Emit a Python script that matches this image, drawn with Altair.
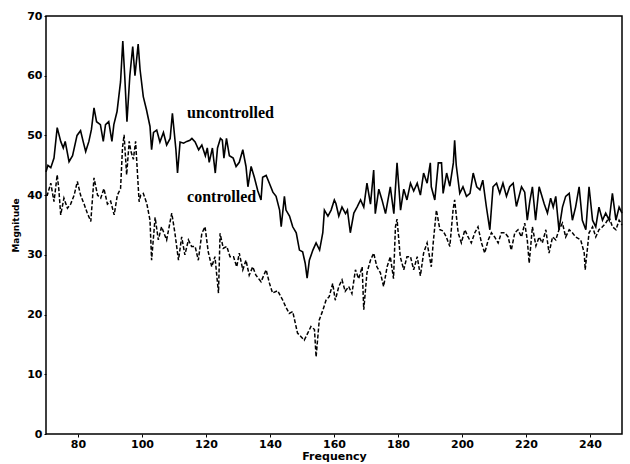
import altair as alt
import pandas as pd

# Uncontrolled spectrum (frequency, magnitude)
freq_u = [70, 70.6, 71.5, 72.5, 73.5, 74.6, 75.4, 76, 77.2, 78.3, 79.7, 80.8, 81.6, 82.4, 83.4, 84.2, 85, 85.8, 87, 87.9,
          88.6, 89.6, 90.6, 91.2, 92.2, 93.3, 94, 94.6, 95.3, 96.2, 97.1, 97.8, 98.8, 99.4, 100.4, 101.4, 102.5, 103, 103.6, 104.6,
          105.6, 106.7, 107.7, 108.8, 109.5, 110.6, 111.1, 111.9, 113, 114, 115, 115.6, 116.6, 117.7, 118.7, 119.8, 120.4, 121, 122, 122.9,
          123.6, 124.5, 125.1, 125.6, 126.4, 127.3, 128.5, 129.4, 130.4, 131.5, 132.5, 133.1, 134.1, 135.1, 136.2, 137.2, 137.7, 138.8, 139.8, 140.9,
          141.9, 143, 143.5, 144.5, 145, 146.1, 147.1, 148.2, 149.2, 150.2, 151, 151.6, 152.3, 153.4, 154.4, 155.5, 156.5, 157, 158.1, 159.1,
          160.1, 160.6, 161.5, 162.5, 163.6, 164.2, 165.1, 166.2, 167.2, 168.3, 169.3, 170.3, 171.4, 172.4, 172.9, 174, 175, 176.1, 177.6, 178.7,
          179.7, 180.8, 181.8, 182.8, 183.9, 184.9, 186, 187, 188, 189.1, 190.1, 190.4, 191.5, 192.6, 193.6, 194.1, 195.2, 196.2, 197.3, 197.7,
          198.2, 199.3, 200.3, 201.4, 202.5, 203.5, 204.6, 205.6, 206.5, 207.6, 208.7, 209.7, 210.8, 211.8, 212.8, 213.9, 214.9, 216, 217, 218.6,
          219.6, 220.4, 221.2, 222, 223, 224.1, 225.7, 226.7, 227.7, 228.5, 229.3, 230.3, 231.4, 232.4, 233.5, 234.5, 235.5, 236.6, 237.6, 238.7,
          239.7, 240.8, 241.8, 242.8, 243.9, 244.9, 246, 247, 248.1, 249.1, 250]
mag_u = [43.9, 45, 44.6, 46.2, 51.3, 49, 47.9, 49, 45.6, 46.6, 50, 50.8, 49, 47.3, 49, 51, 54.6, 52.3, 51.8, 49,
         51.8, 52.3, 49, 51.8, 54, 59, 65.8, 60, 52.3, 60, 64.9, 60, 65.3, 61, 56.5, 54.3, 51.5, 47.6, 50.5, 50.9,
         48.9, 50.5, 48.4, 49.5, 53.7, 47.6, 43.7, 48.9, 48.7, 49, 49.2, 49.5, 48.9, 47.6, 48.4, 46.6, 47.9, 45.5, 47.9, 43.7,
         47.9, 49.5, 49.2, 46.2, 49.5, 46.6, 46.2, 44.8, 45.5, 47.6, 44.8, 41.4, 44.8, 43, 40.7, 39.2, 43, 43.3, 42, 40.5,
         39.8, 37.5, 34.7, 39.8, 37.5, 36.5, 34.7, 33.7, 30.8, 30.5, 28.6, 26.1, 29.1, 30.8, 32, 30.8, 33.7, 37.5, 36.5, 37.5,
         39.2, 38.6, 36.5, 38, 36.9, 37.5, 33.7, 37, 38, 39.2, 38, 42, 38.5, 44.2, 36.9, 41, 39.2, 36.9, 41.4, 36.9,
         45.4, 37.5, 41, 39.2, 42, 40.7, 42, 40, 43.7, 42, 45.4, 41.4, 39.2, 45.4, 45.4, 40.3, 43.7, 41.5, 45.4, 49.2,
         45, 40.3, 41.4, 39.8, 40.3, 43.7, 41.4, 40.9, 42.5, 38.1, 34.2, 41.4, 42, 40.3, 42, 39.8, 41.4, 42, 38.1, 41.4,
         40.5, 35.8, 39, 41.4, 35.8, 41.4, 38.5, 37, 39.5, 38, 39.8, 34.2, 38, 39.8, 40.3, 35.8, 38, 41.4, 35.8, 34.2,
         41.4, 35.8, 34.7, 38, 35.8, 37, 35.8, 40.3, 35.8, 38, 37]

# Controlled spectrum (frequency, magnitude)
freq_c = [70, 70.4, 71.5, 72.5, 73.5, 74, 74.6, 75.6, 76.7, 77.7, 78.8, 79.8, 80.8, 81.9, 82.9, 84, 85, 86.1, 87.1, 88.1,
          89.2, 90.2, 91.3, 92.3, 93.3, 93.9, 94.4, 95.2, 96, 96.5, 97.3, 98, 99.1, 99.6, 100.4, 101.5, 102.5, 103, 104.1, 105.1,
          106.1, 107.7, 109.3, 110.3, 111.4, 112.4, 113.4, 114.5, 115.5, 116.6, 117.6, 118.7, 119.7, 120.7, 121.8, 122.8, 123.9, 124.4, 125.4, 126.5,
          127.5, 128.6, 129.6, 130.4, 131.5, 132.5, 133.5, 134.6, 135.6, 137.2, 138.8, 139.8, 140.8, 142.4, 144, 145, 146, 147.1, 148.6, 149.7,
          150.7, 151.8, 152.8, 153.9, 154.4, 155.4, 156.5, 157.5, 158.5, 159.6, 160.4, 161.5, 162.5, 163.5, 164.6, 165.6, 166.7, 167.7, 168.8, 169.3,
          170.3, 171.4, 172.4, 173.4, 174.5, 175.5, 176.6, 177.6, 178.6, 179.2, 179.7, 180.7, 181.8, 182.8, 183.9, 184.9, 186, 187, 188, 189.1,
          190.4, 191, 192, 193.1, 194.1, 195.1, 196.2, 197.2, 197.7, 198.8, 199.8, 200.9, 201.9, 202.9, 204, 205, 206.1, 207.1, 208.2, 209.2,
          210.2, 211.3, 212.3, 213.4, 214.4, 215.4, 216.5, 217.5, 218.6, 219.6, 220.4, 221, 222, 223.1, 224.1, 225.1, 226.2, 227.2, 228.3, 229.3,
          230.3, 231.4, 232.4, 233.5, 234.5, 235.5, 237.1, 238.2, 238.5, 239.7, 240.8, 241.8, 242.8, 243.9, 244.9, 246, 247, 248.1, 249.1, 250]
mag_c = [40, 40, 42, 38.9, 43.4, 41, 36.7, 39.5, 37.8, 38.5, 40, 42.3, 40, 38.5, 37, 35.6, 42.9, 40, 39.5, 41.1,
         38.5, 39, 36.7, 40, 41.1, 47.9, 50.1, 43.4, 49, 47.4, 46, 49, 38.9, 40, 40.3, 38.6, 35.8, 29.1, 36.3, 32.5,
         34.7, 32.5, 37, 33.6, 29.1, 33, 30, 32.5, 31.4, 31.4, 29.1, 33.6, 34.7, 30.5, 28, 29.7, 23.6, 33.6, 31.1, 31.4,
         29.7, 29.7, 28, 30.3, 27.5, 29.1, 26.6, 28, 26.6, 25.5, 27.5, 25.3, 23.6, 24, 22.4, 21.2, 20.2, 20.5, 16.9, 16.3,
         15.7, 16.9, 18, 17.5, 12.9, 19.1, 20.7, 22.4, 23, 25.2, 22.4, 24.7, 25.8, 23.9, 24.7, 23.5, 27.5, 26, 28, 20.8,
         27, 29.1, 30.3, 28, 27, 24.7, 28, 29.7, 26, 34.7, 36, 29.7, 27.5, 29.7, 29.7, 27.5, 29.7, 26.5, 30.3, 32,
         28, 32, 37.5, 34.2, 34, 33, 31.4, 37.5, 39.2, 33.7, 32, 34.2, 33, 32, 33.7, 34.7, 32, 30.3, 32.5, 33.7,
         33, 32, 33.7, 33.7, 33, 30.8, 33.7, 34.2, 33, 35.3, 32.5, 28.6, 34.7, 31.5, 33, 32, 34.2, 30.3, 33, 32.5,
         34.2, 35.3, 33, 34.2, 33.7, 33, 32.5, 30.3, 27.5, 33.7, 34.7, 33, 34.2, 34.7, 35.3, 36.3, 34.7, 34.2, 35.8, 35]

label_text = ["uncontrolled", "controlled"]
label_x = [114.1, 114.1]
label_y = [53.8, 39.7]

x_ticks = [80, 100, 120, 140, 160, 180, 200, 220, 240]
y_ticks = [0, 10, 20, 30, 40, 50, 60, 70]

df_u = pd.DataFrame({"Frequency": freq_u, "Magnitude": mag_u})
df_c = pd.DataFrame({"Frequency": freq_c, "Magnitude": mag_c})
df_t = pd.DataFrame({"label": label_text, "Frequency": label_x, "Magnitude": label_y})

xs = alt.Scale(domain=[70, 250], nice=False, zero=False)
ys = alt.Scale(domain=[0, 70], nice=False)

x_axis = alt.Axis(values=x_ticks, title="Frequency", grid=False, tickSize=3, labelPadding=1,
                  labelFont="DejaVu Sans", labelFontWeight="bold", labelFontSize=11, labelColor="black",
                  titleFont="DejaVu Sans", titleFontWeight="bold", titleFontSize=11, titleColor="black",
                  titleY=16, domain=False, tickColor="black")
y_axis = alt.Axis(values=y_ticks, title="Magnitude", grid=False, tickSize=2, labelPadding=2,
                  labelFont="DejaVu Sans", labelFontWeight="bold", labelFontSize=11, labelColor="black",
                  titleFont="DejaVu Sans", titleFontWeight="bold", titleFontSize=9, titleColor="black",
                  titleX=-26, domain=False, tickColor="black")

line_u = alt.Chart(df_u).mark_line(color="black", strokeWidth=1.6).encode(
    x=alt.X("Frequency:Q", scale=xs, axis=x_axis),
    y=alt.Y("Magnitude:Q", scale=ys, axis=y_axis),
)
line_c = alt.Chart(df_c).mark_line(color="black", strokeWidth=1.5, strokeDash=[4, 2]).encode(
    x=alt.X("Frequency:Q", scale=xs),
    y=alt.Y("Magnitude:Q", scale=ys),
)
labels = alt.Chart(df_t).mark_text(font="Liberation Serif", fontWeight="bold", fontSize=16,
                                   align="left", baseline="middle", color="black").encode(
    x=alt.X("Frequency:Q", scale=xs),
    y=alt.Y("Magnitude:Q", scale=ys),
    text="label:N",
)

chart = alt.layer(line_u, line_c, labels).properties(
    width=576, height=418,
    autosize=alt.AutoSizeParams(type="none"),
    padding={"left": 46, "top": 16, "right": 8, "bottom": 30},
    background="white",
).configure_view(stroke="black", strokeWidth=1.5)

chart.save("out.html", embed_options={"renderer": "svg", "actions": False})
